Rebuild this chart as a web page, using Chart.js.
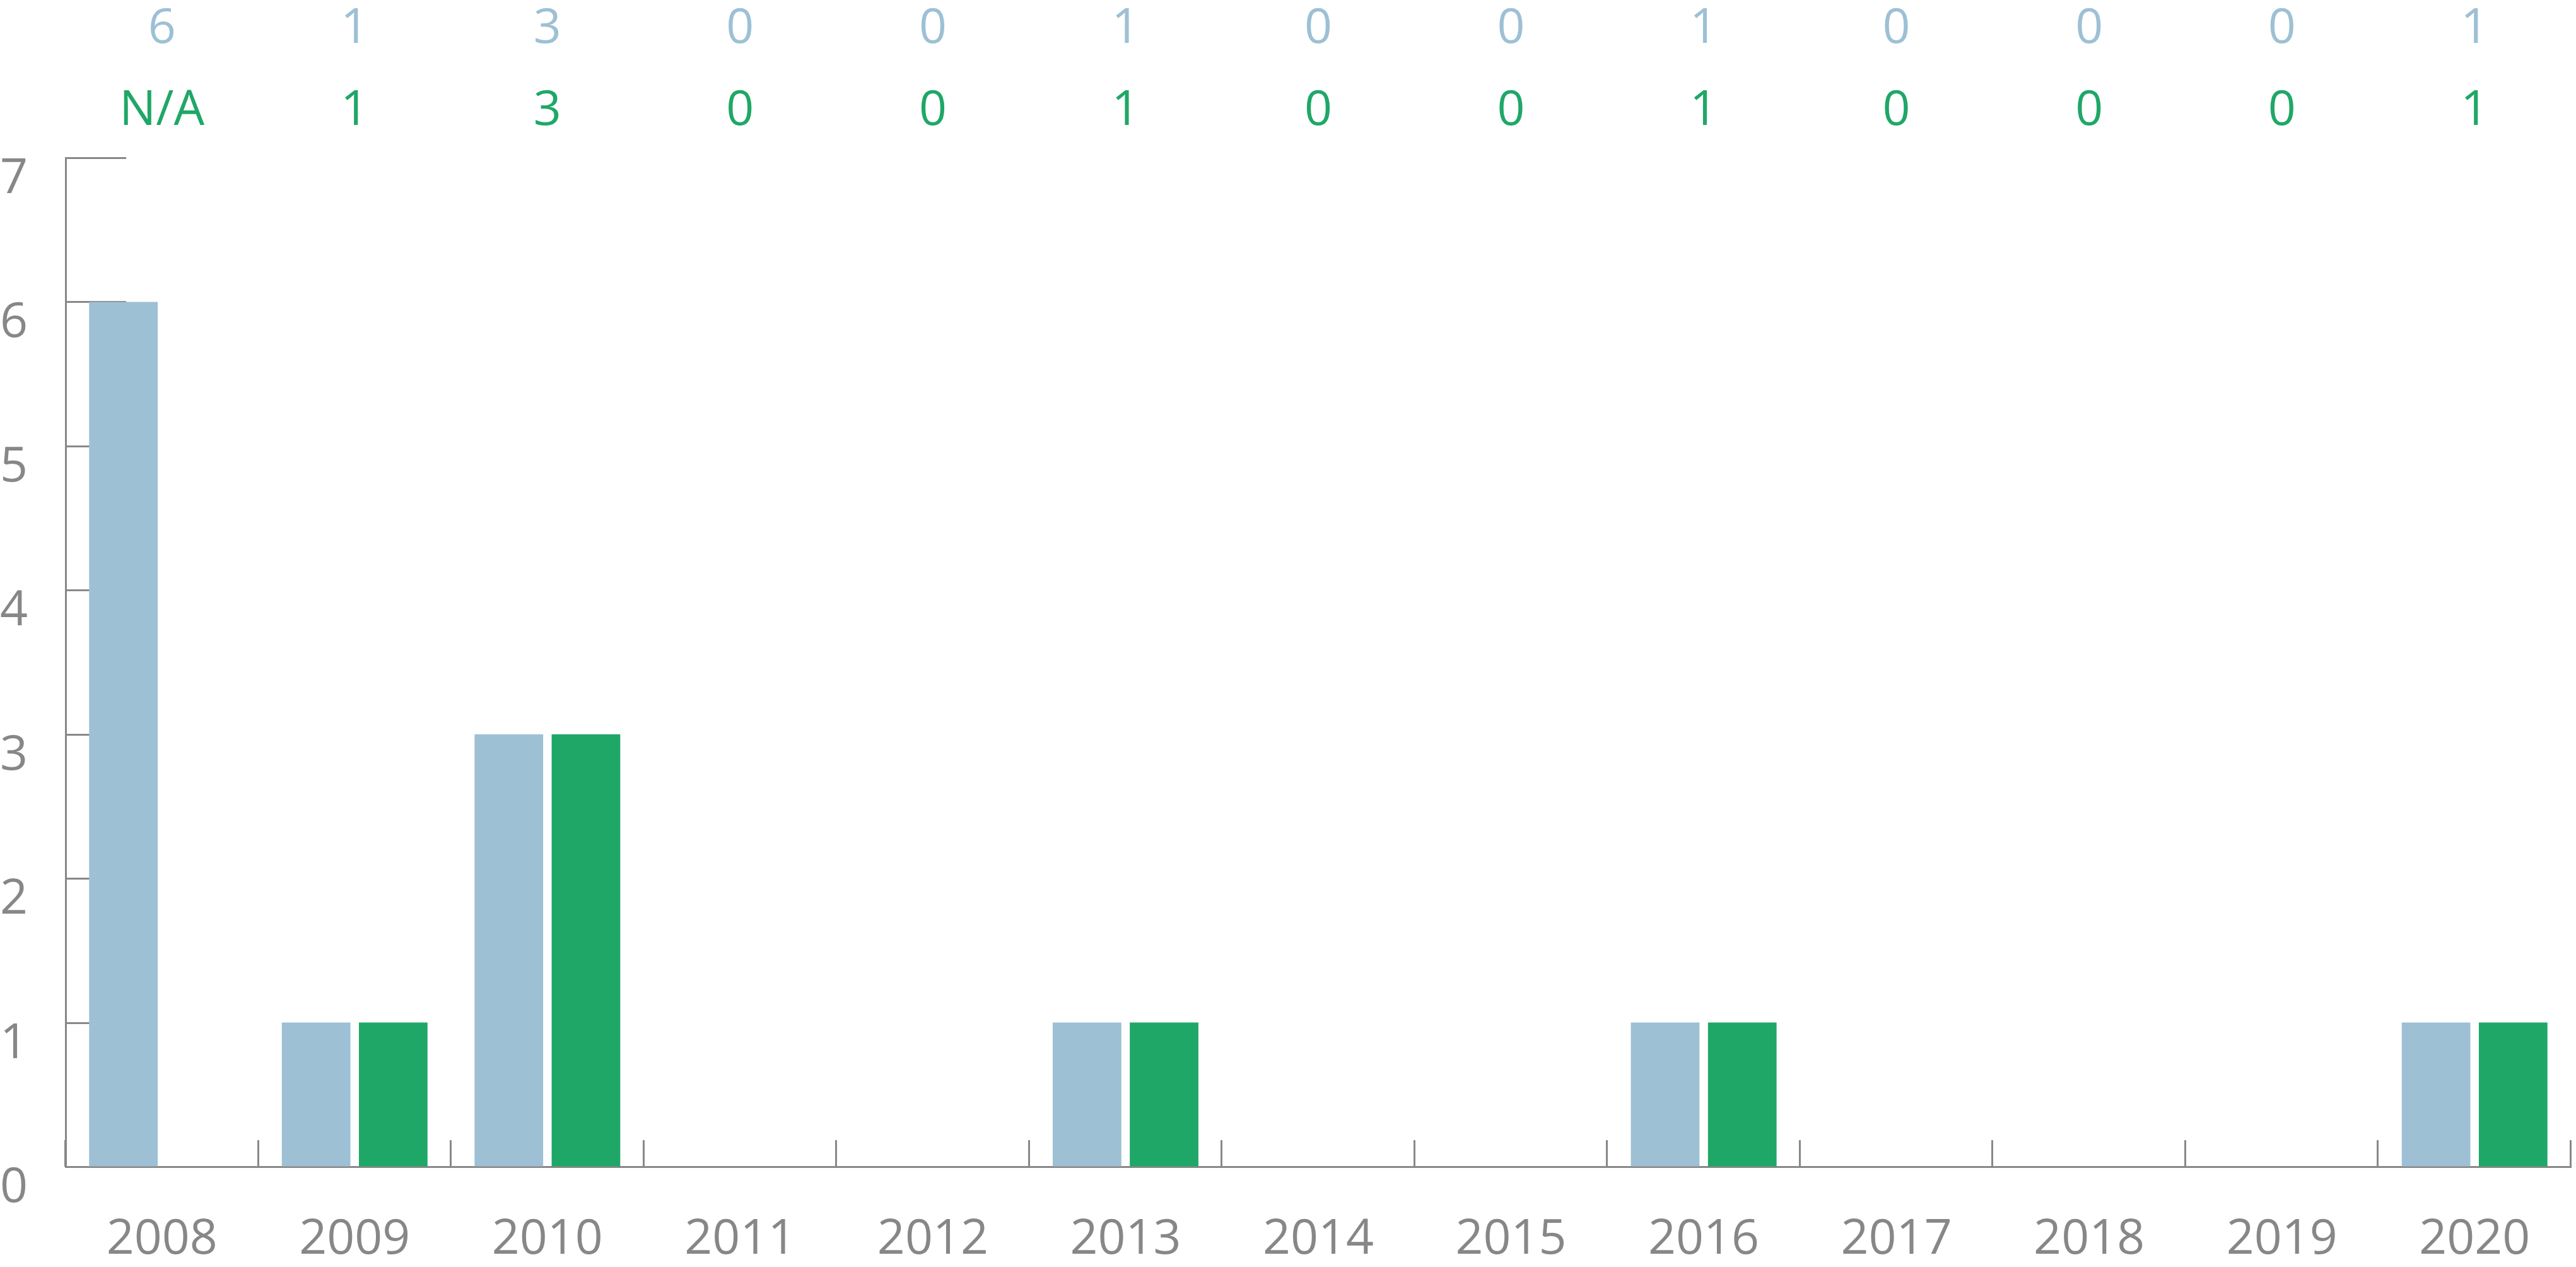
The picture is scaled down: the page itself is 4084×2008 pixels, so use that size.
<!DOCTYPE html>
<html><head><meta charset="utf-8">
<script src="https://cdn.jsdelivr.net/npm/chart.js@4/dist/chart.umd.min.js"></script>
<style>html,body{margin:0;padding:0;background:#fff;overflow:hidden;}#wrap{width:4084px;height:2008px;position:relative;overflow:hidden}#c{display:block}</style>
</head><body><div id="wrap"><canvas id="c" width="4084" height="2008"></canvas></div>
<script>
const years = ['2008','2009','2010','2011','2012','2013','2014','2015','2016','2017','2018','2019','2020'];
const seriesBlue = [6,1,3,0,0,1,0,0,1,0,0,0,1];
const seriesGreen = [null,1,3,0,0,1,0,0,1,0,0,0,1];
const rowBlueLabels = ['6','1','3','0','0','1','0','0','1','0','0','0','1'];
const rowGreenLabels = ['N/A','1','3','0','0','1','0','0','1','0','0','0','1'];
const yTickValues = [0,1,2,3,4,5,6,7];

const BLUE = '#9DC0D4', GREEN = '#1FA767', GREY = '#888888', LABEL = '#878787';
const FONT = "'Open Sans', 'Noto Sans', sans-serif";
const FS = 77;

const decorPlugin = {
  id: 'decor',
  beforeDatasetsDraw(chart) {
    const ctx = chart.ctx, xs = chart.scales.x, ys = chart.scales.y;
    const axisX = ys.right;
    ctx.save();
    ctx.strokeStyle = GREY; ctx.lineWidth = 3;
    yTickValues.forEach(v => {
      const py = Math.round(ys.getPixelForValue(v)) + 0.5;
      ctx.beginPath(); ctx.moveTo(axisX, py); ctx.lineTo(axisX + 96, py); ctx.stroke();
    });
    for (let i = 0; i <= years.length; i++) {
      const px = Math.round(xs.getPixelForValue(i - 0.5)) - 0.5;
      const base = ys.getPixelForValue(0);
      ctx.beginPath(); ctx.moveTo(px, base); ctx.lineTo(px, base - 42); ctx.stroke();
    }
    ctx.restore();
  },
  afterDraw(chart) {
    const ctx = chart.ctx, xs = chart.scales.x;
    ctx.save();
    ctx.font = FS + 'px ' + FONT;
    ctx.textAlign = 'center'; ctx.textBaseline = 'middle';
    years.forEach((y, i) => {
      const px = xs.getPixelForValue(i);
      ctx.fillStyle = BLUE; ctx.fillText(rowBlueLabels[i], px, 46);
      ctx.fillStyle = GREEN; ctx.fillText(rowGreenLabels[i], px, 176);
    });
    ctx.restore();
  }
};

new Chart(document.getElementById('c'), {
  type: 'bar',
  data: {
    labels: years,
    datasets: [
      { data: seriesBlue, backgroundColor: BLUE, borderWidth: 0, categoryPercentage: 0.8, barPercentage: 0.89 },
      { data: seriesGreen, backgroundColor: GREEN, borderWidth: 0, categoryPercentage: 0.8, barPercentage: 0.89 }
    ]
  },
  options: {
    responsive: false, animation: false, devicePixelRatio: 1,
    layout: { padding: { top: 250, right: 8, left: 0, bottom: 0 } },
    plugins: { legend: { display: false }, tooltip: { enabled: false } },
    scales: {
      x: {
        grid: { display: true, drawOnChartArea: false, drawTicks: false },
        border: { display: true, color: GREY, width: 3 },
        ticks: { color: LABEL, font: { family: FONT, size: FS }, padding: 70, maxRotation: 0, autoSkip: false },
        afterFit(s) { s.height = 159; }
      },
      y: {
        min: 0, max: 7,
        grid: { display: true, drawOnChartArea: false, drawTicks: false },
        border: { display: true, color: GREY, width: 3 },
        ticks: { stepSize: 1, color: LABEL, font: { family: FONT, size: FS }, padding: 60, labelOffset: 34 },
        afterFit(s) { s.width = 104; }
      }
    }
  },
  plugins: [decorPlugin]
});
</script></body></html>
